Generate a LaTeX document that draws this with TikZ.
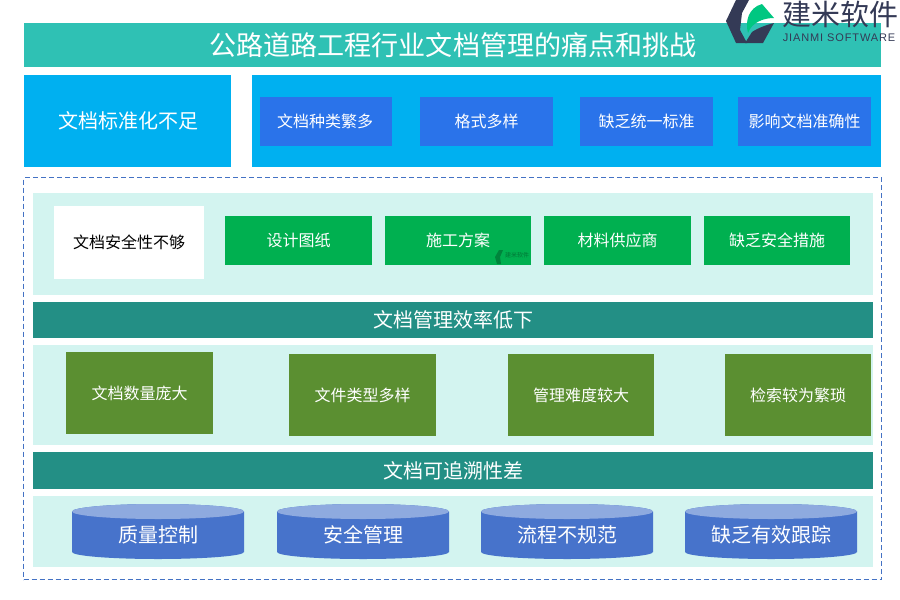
\documentclass[tikz,border=0pt]{standalone}
\usepackage{fontspec}
\setmainfont{Noto Sans CJK SC}
\setsansfont{Liberation Sans}
\definecolor{teal1}{HTML}{2FC1B4}
\definecolor{sky}{HTML}{00B0F0}
\definecolor{royal}{HTML}{2A73EA}
\definecolor{mint}{HTML}{D3F4F0}
\definecolor{grn}{HTML}{00B050}
\definecolor{deep}{HTML}{238F85}
\definecolor{olive}{HTML}{5B8F31}
\definecolor{cylbody}{HTML}{4773CB}
\definecolor{cyltop}{HTML}{8EAADF}
\definecolor{dash}{HTML}{4472C4}
\definecolor{logodark}{HTML}{343A56}
\definecolor{logogreen}{HTML}{00C781}
\tikzset{
  x=1pt,y=-1pt,
  boxbase/.style={inner sep=0pt,outer sep=0pt,align=center,text=white,font=\fontsize{16}{18}\selectfont},
  skybox/.style={boxbase,fill=sky,font=\fontsize{20}{22}\selectfont},
  royalbox/.style={boxbase,fill=royal,minimum width=133pt,minimum height=49pt},
  greenbox/.style={boxbase,fill=grn,minimum width=147pt,minimum height=49pt},
  olivebox/.style={boxbase,fill=olive,minimum width=147pt},
  mintband/.style={inner sep=0pt,outer sep=0pt,fill=mint},
  deepband/.style={boxbase,fill=deep,minimum width=840pt,font=\fontsize{20}{22}\selectfont},
  cyllabel/.style={inner sep=0pt,text=white,font=\fontsize{20}{22}\selectfont},
  cylside/.style={fill=cylbody},
  cylcap/.style={fill=cyltop},
}
\newcommand{\cyl}[4]{%
  \fill[cylside] (#1,511.5) arc[x radius=86,y radius=7.5,start angle=180,end angle=360] -- (#1+172,552) arc[x radius=86,y radius=7,start angle=0,end angle=180] -- cycle;
  \fill[cylcap] (#1+86,511.5) ellipse[x radius=86,y radius=7.5];
  \node[cyllabel] (#3) at (#1+86,#2) {#4};
}
\begin{document}
\begin{tikzpicture}
\useasboundingbox (0,0) rectangle (900,600);
\fill[white] (0,0) rectangle (900,600);
% title
\node[boxbase,fill=teal1,minimum width=857pt,minimum height=44pt,font=\fontsize{27.1}{29}\selectfont] (title) at (452.5,45) {\hspace{1pt}公路道路工程行业文档管理的痛点和挑战};
% row 1
\node[skybox,minimum width=207pt,minimum height=92pt] (std) at (127.5,121) {\hspace{1pt}文档标准化不足};
\node[inner sep=0pt,fill=sky,minimum width=629pt,minimum height=92pt] (stdband) at (566.5,121) {};
\node[royalbox,minimum width=132pt] (a1) at (326,121.5) {\hspace{-2pt}文档种类繁多};
\node[royalbox] (a2) at (486.5,121.5) {格式多样};
\node[royalbox] (a3) at (646.5,121.5) {缺乏统一标准};
\node[royalbox] (a4) at (804.5,121.5) {影响文档准确性};
% dashed frame
\node[draw=dash,line width=1.1pt,inner sep=0pt,minimum width=858pt,minimum height=402pt,dash pattern=on 5pt off 3pt] (frame) at (452.5,378.5) {};
% security
\node[mintband,minimum width=840pt,minimum height=102pt] (secband) at (453,244) {};
\node[boxbase,fill=white,text=black,minimum width=150pt,minimum height=73pt] (sec) at (129,242.5) {文档安全性不够};
\node[greenbox] (b1) at (298.5,240.5) {设计图纸};
\node[greenbox,minimum width=146pt] (b2) at (458,240.5) {施工方案};
\node[greenbox] (b3) at (617.5,240.5) {材料供应商};
\node[greenbox,minimum width=146pt] (b4) at (777,240.5) {缺乏安全措施};
% efficiency
\node[deepband,minimum height=36pt] (eff) at (453,320) {文档管理效率低下};
\node[mintband,minimum width=840pt,minimum height=100pt] (effband) at (453,395) {};
\node[olivebox,minimum height=82pt] (c1) at (139.5,393) {文档数量庞大};
\node[olivebox,minimum height=82pt] (c2) at (362.5,395) {文件类型多样};
\node[olivebox,minimum width=146pt,minimum height=82pt] (c3) at (581,395) {管理难度较大};
\node[olivebox,minimum width=146pt,minimum height=82pt] (c4) at (798,395) {检索较为繁琐};
% trace
\node[deepband,minimum height=37pt] (trace) at (453,470.5) {文档可追溯性差};
\node[mintband,minimum width=840pt,minimum height=71pt] (traceband) at (453,531.5) {};
\cyl{72}{535}{d1}{质量控制}
\cyl{277}{535}{d2}{安全管理}
\cyl{481}{535}{d3}{流程不规范}
\cyl{685}{535}{d4}{缺乏有效跟踪}
% watermark
\fill[black!55!grn,opacity=.45] (499,250) -- (503,250) -- (500,257) -- (501,264) -- (497,264) -- (495,257) -- cycle;
\node[inner sep=0pt,text=black!55!grn,opacity=.6,font=\fontsize{6}{6}\selectfont] (wm) at (517,255) {建米软件};
% logo
\fill[logodark] (736,0) -- (749,0) -- (742,13) -- (740,30) -- (747,43) -- (736,43) -- (726,21) -- cycle;
\fill[logodark] (745,43) -- (752,32) .. controls (758,28) and (766,25) .. (774,23) -- (763,43) -- cycle;
\fill[logogreen] (762,4) -- (774,18) .. controls (764,18) and (752,22) .. (748,33) .. controls (745,22) and (748,8) .. (762,4) -- cycle;
\node[inner sep=0pt,text=logodark,font=\fontsize{29}{30}\selectfont] (lg1) at (840,14) {建米软件};
\node[inner sep=0pt,text=logodark,font=\sffamily\fontsize{11}{12}\selectfont] (lg2) at (839,38) {\addfontfeature{LetterSpace=8}JIANMI SOFTWARE};
\end{tikzpicture}
\end{document}
